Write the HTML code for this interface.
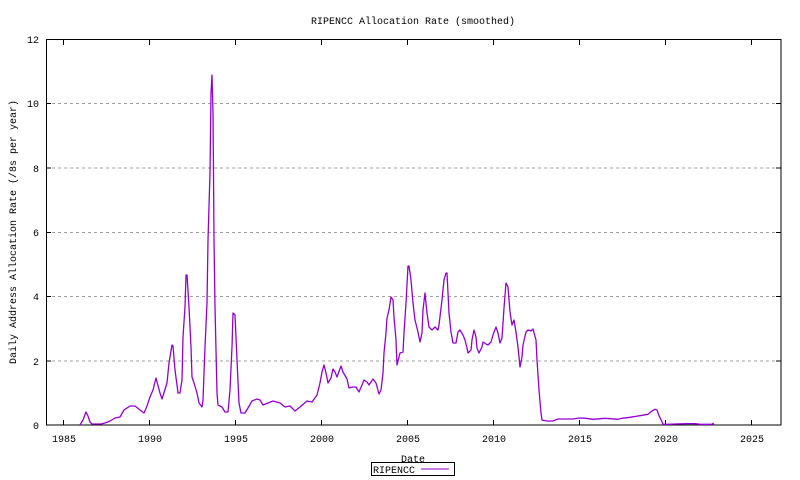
<!DOCTYPE html>
<html><head><meta charset="utf-8"><style>
html,body{margin:0;padding:0;background:#fff}
svg{display:block;font-family:"Liberation Mono","DejaVu Sans Mono",monospace;font-size:10px}
</style></head><body>
<svg width="800" height="480" viewBox="0 0 800 480" xmlns="http://www.w3.org/2000/svg">
<rect width="800" height="480" fill="#fff"/>
<g stroke="#a0a0a0" stroke-dasharray="3,3" stroke-width="1">
<line x1="46" y1="361" x2="781" y2="361"/>
<line x1="46" y1="296.5" x2="781" y2="296.5"/>
<line x1="46" y1="232.5" x2="781" y2="232.5"/>
<line x1="46" y1="168" x2="781" y2="168"/>
<line x1="46" y1="103.5" x2="781" y2="103.5"/>
</g>
<g stroke="#000" stroke-width="1">
<line x1="46" y1="361" x2="51" y2="361"/><line x1="781" y1="361" x2="776" y2="361"/>
<line x1="46" y1="296.5" x2="51" y2="296.5"/><line x1="781" y1="296.5" x2="776" y2="296.5"/>
<line x1="46" y1="232.5" x2="51" y2="232.5"/><line x1="781" y1="232.5" x2="776" y2="232.5"/>
<line x1="46" y1="168" x2="51" y2="168"/><line x1="781" y1="168" x2="776" y2="168"/>
<line x1="46" y1="103.5" x2="51" y2="103.5"/><line x1="781" y1="103.5" x2="776" y2="103.5"/>
<line x1="63.5" y1="425" x2="63.5" y2="420"/><line x1="63.5" y1="40" x2="63.5" y2="45"/>
<line x1="149.5" y1="425" x2="149.5" y2="420"/><line x1="149.5" y1="40" x2="149.5" y2="45"/>
<line x1="235.5" y1="425" x2="235.5" y2="420"/><line x1="235.5" y1="40" x2="235.5" y2="45"/>
<line x1="321.5" y1="425" x2="321.5" y2="420"/><line x1="321.5" y1="40" x2="321.5" y2="45"/>
<line x1="407.5" y1="425" x2="407.5" y2="420"/><line x1="407.5" y1="40" x2="407.5" y2="45"/>
<line x1="493.5" y1="425" x2="493.5" y2="420"/><line x1="493.5" y1="40" x2="493.5" y2="45"/>
<line x1="579.5" y1="425" x2="579.5" y2="420"/><line x1="579.5" y1="40" x2="579.5" y2="45"/>
<line x1="665.5" y1="425" x2="665.5" y2="420"/><line x1="665.5" y1="40" x2="665.5" y2="45"/>
<line x1="751.5" y1="425" x2="751.5" y2="420"/><line x1="751.5" y1="40" x2="751.5" y2="45"/>
</g>
<rect x="46.5" y="39.5" width="734.5" height="385.5" fill="none" stroke="#000" stroke-width="1"/>
<g fill="#000" text-anchor="end">
<text x="39" y="429">0</text><text x="39" y="365">2</text><text x="39" y="300">4</text>
<text x="39" y="236">6</text><text x="39" y="172">8</text><text x="39" y="107">10</text><text x="39" y="43">12</text>
</g>
<g fill="#000" text-anchor="middle">
<text x="64" y="442">1985</text><text x="150" y="442">1990</text><text x="236" y="442">1995</text>
<text x="322" y="442">2000</text><text x="408" y="442">2005</text><text x="494" y="442">2010</text>
<text x="580" y="442">2015</text><text x="666" y="442">2020</text><text x="752" y="442">2025</text>
<text x="413" y="24">RIPENCC Allocation Rate (smoothed)</text>
<text x="413" y="462">Date</text>
<text transform="translate(16,232) rotate(-90)">Daily Address Allocation Rate (/8s per year)</text>
</g>
<rect x="371.5" y="462.5" width="83" height="13" fill="#fff" stroke="#000"/>
<text x="373" y="473" fill="#000">RIPENCC</text>
<line x1="421" y1="469" x2="449" y2="469" stroke="#9400d3"/>
<polyline fill="none" stroke="#9400d3" stroke-width="1.3" stroke-linejoin="round" points="
80,425 83,420 86,412 88,416 90,422 92,424 101,424 105,423 110,421 115,418 120,417 124,410 130,406 135,406 140,410 144,413 147,406 150,397 153,390 156,378
160,393 162,399 167,383 169,363 172,345 173,346 175,370 177,385 178,393 180,393 182,380 183,337 185,307 186,275 187,275 189,307 191,347 192,377 194,383 197,393 199,403 202,407 203,400 205,347 207,303 208,240 210,173 211,93 212,75 213,113 213.5,173 214,240 215,307 217,393 218,405 222,407 225,412 228,412 230,390 232,347 233,313 235,315 237,360 239,403 241,413 245,413 248,408 252,401 257,399 260,400
263,405 268,403 273,401 280,403 285,407 290,406 295,411 300,407 307,401 312,402 317,395 320,383 322,372 324,365 326,373 328,383 331,378 333,369 335,372 337,377 341,366 343,372 347,379 349,388 353,387 356,387 359,392 362,385 364,380 367,382 369,385 373,379 376,383 379,394 381,390 383,373 384,353 386,333 387,318 389,310 391,297 393,300 394,317 396,340 397,365 400,353 403,352 404,333 406,303 408,266 409,266 411,280 413,303 415,320 418,332 420,342 422,333 423,310 425,293 427,313 429,327 432,330 435,327 438,330 439,325 442,300 444,280 446,273 447,273 449,313 451,332 453,343 456,343 458,332 460,330 463,335 465,340 467,348 468,353 471,350 472,340 474,330 476,337 477,348 479,353 482,347 483,342 486,344 488,345 491,342 493,335 496,327 498,333 500,343 502,338 504,308 506,283 508,287 510,312 512,325 514,320 516,332 518,347 520,367 522,357 523,345 526,332 528,330 531,331 533,329 536,340 537,360 539,390 541,413 542,420 547,421 553,421 558,419 562,419 573,419 579,418
586,418.3 593,419.3 605,418.3 618,419.3 622,418.3 630,417.3 640,415.7 648,414.3 652,411 655,409.3 657,410 659,415.7 662,421.7 663,424.3 668,424.3 675,424 687,423.7 695,423.7 700,424.3 712,424.3 713,423.3 714,425"/>
</svg>
</body></html>
